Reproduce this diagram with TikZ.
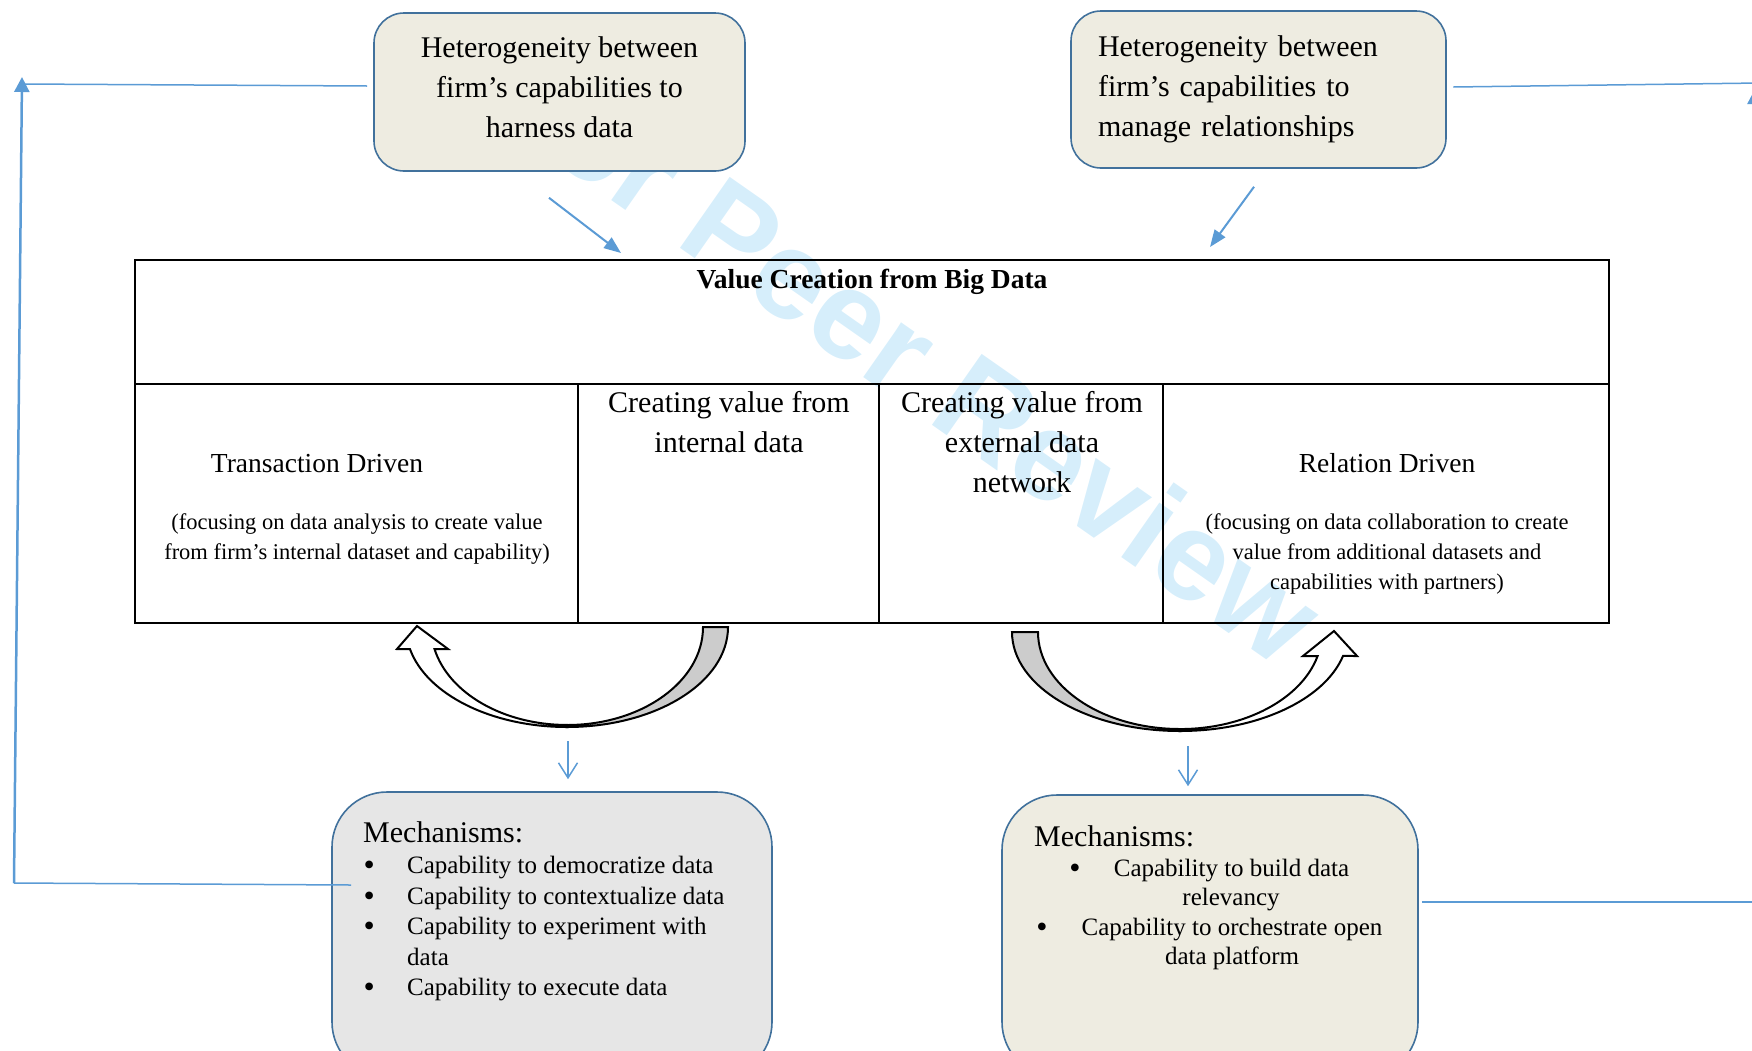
\documentclass[tikz,border=0pt]{standalone}
\usepackage{fontspec}
\setmainfont{Liberation Serif}
\newfontfamily\wmfont{Liberation Sans}
\usetikzlibrary{arrows.meta,calc}
\definecolor{boxblue}{RGB}{65,113,156}
\definecolor{beige}{RGB}{238,236,225}
\definecolor{mgray}{RGB}{230,230,230}
\definecolor{connblue}{RGB}{91,155,213}
\definecolor{wmblue}{RGB}{214,238,251}
\definecolor{tailgray}{RGB}{204,204,204}
\newcommand{\fs}[2]{\fontsize{#1}{#2}\selectfont}
\newcommand{\bul}{\raisebox{-2pt}{\fs{32}{32}•}}
\newcommand{\blt}{\makebox[43.5pt][l]{\bul}}
\newcommand{\bsp}{\hspace*{43.5pt}}
\begin{document}
\begin{tikzpicture}[x=1pt,y=-1pt,
  hbox/.style={draw=boxblue, line width=1.6pt, fill=beige, rounded corners=30pt},
  mbox/.style={draw=boxblue, line width=1.6pt, rounded corners=55pt},
  conn/.style={draw=connblue, line width=2pt},
  curv/.style={draw=black, line width=2pt, line join=miter},
  txt/.style={inner sep=0pt},
  grid/.style={draw=black, line width=2pt}]
\useasboundingbox (0,0) rectangle (1752,1050);

% watermark
\node[txt, rotate=-35, anchor=base west, text=wmblue, font=\wmfont\bfseries\fs{126}{126}] (wm) at (478,107) {For Peer Review};

% main table
\node[grid, minimum width=1474pt, minimum height=363pt, inner sep=0pt] (vc) at (872,441.5) {};
\draw[grid] ($(vc.north west)+(0,125)$) -- ($(vc.north east)+(0,125)$);
\draw[grid] ($(vc.north west)+(444,125)$) -- ($(vc.south west)+(444,0)$);
\draw[grid] ($(vc.north west)+(745,125)$) -- ($(vc.south west)+(745,0)$);
\draw[grid] ($(vc.north west)+(1029,125)$) -- ($(vc.south west)+(1029,0)$);

\node[txt, font=\bfseries\fs{27.5}{33}] (title) at (872,281.5) {Value Creation from Big Data};
\node[txt, font=\fs{27.5}{33}] (td) at (317,464) {Transaction Driven};
\node[txt, align=center, font=\fs{22.5}{30}] (tdd) at (357,539) {(focusing on data analysis to create value\\from firm’s internal dataset and capability)};
\node[txt, align=center, font=\fs{30}{40}] (ci) at (729,422) {Creating value from\\internal data};
\node[txt, align=center, font=\fs{30}{40}] (ce) at (1022,442) {Creating value from\\external data\\network};
\node[txt, font=\fs{27.5}{33}] (rd) at (1387,463) {Relation Driven};
\node[txt, align=center, font=\fs{22.5}{30}] (rdd) at (1387,554) {(focusing on data collaboration to create\\value from additional datasets and\\capabilities with partners)};

% top boxes
\node[hbox, minimum width=371pt, minimum height=158pt] (h1) at (559.5,92) {};
\node[txt, align=center, font=\fs{30}{40}] (h1t) at ($(h1.center)+(0,-4.5)$) {Heterogeneity between\\firm’s capabilities to\\harness data};
\node[hbox, minimum width=375pt, minimum height=157pt, inner xsep=27pt, text width=321pt, align=left, font=\fs{30}{40}] (h2) at (1258.5,89.5) {Heterogeneity between\\firm’s capabilities to\\manage relationships};

% arrows from top boxes to table
\draw[conn, -{Triangle[length=17pt,width=13pt]}] ($(h1.south)+(-10.5,26)$) -- ($(vc.north)+(-251,-6)$);
\draw[conn, -{Triangle[length=17pt,width=13pt]}] ($(h2.south)+(-4.5,18)$) -- ($(vc.north)+(338,-12)$);

% curved arrows (left)
\draw[curv, fill=tailgray] (703,627) -- (728,627) arc[start angle=0, end angle=90, x radius=161, y radius=100]
  -- (567,725) arc[start angle=90, end angle=0, x radius=136, y radius=98] -- cycle;
\draw[curv, fill=white] (567,727) arc[start angle=90, end angle=167.2, x radius=161, y radius=100]
  -- (397,649) -- (417,626) -- (448,649) -- (434.5,649)
  arc[start angle=167, end angle=90, x radius=136, y radius=98] -- cycle;
% curved arrows (right)
\draw[curv, fill=tailgray] (1038,632) -- (1012,632) arc[start angle=180, end angle=90, x radius=168, y radius=99]
  -- (1180,729) arc[start angle=90, end angle=180, x radius=142, y radius=97] -- cycle;
\draw[curv, fill=white] (1180,731) arc[start angle=90, end angle=14, x radius=168, y radius=99]
  -- (1357,656) -- (1334,631) -- (1303,656) -- (1317.6,656)
  arc[start angle=14.3, end angle=90, x radius=142, y radius=97] -- cycle;

% mechanism boxes
\node[mbox, fill=mgray, minimum width=440pt, minimum height=285pt] (m1) at (552,934.5) {};
\node[mbox, fill=beige, minimum width=416pt, minimum height=282pt] (m2) at (1210,936) {};

\node[txt, anchor=base west, font=\fs{30}{36}] (m1h) at (363,842) {Mechanisms:};
\node[txt, anchor=base west, font=\fs{25}{30}] (m1a) at (363.5,873.5) {\blt Capability to democratize data};
\node[txt, anchor=base west, font=\fs{25}{30}] (m1b) at (363.5,904) {\blt Capability to contextualize data};
\node[txt, anchor=base west, font=\fs{25}{30}] (m1c) at (363.5,934.5) {\blt Capability to experiment with};
\node[txt, anchor=base west, font=\fs{25}{30}] (m1d) at (363.5,965) {\bsp data};
\node[txt, anchor=base west, font=\fs{25}{30}] (m1e) at (363.5,995.5) {\blt Capability to execute data};

\node[txt, anchor=base west, font=\fs{30}{36}] (m2h) at (1034,846) {Mechanisms:};
\node[txt, anchor=base, font=\fs{25}{30}] (b1) at (1075,876) {\bul};
\node[txt, anchor=base, font=\fs{25}{30}] (m2a) at (1231.5,876) {Capability to build data};
\node[txt, anchor=base, font=\fs{25}{30}] (m2b) at (1231,905) {relevancy};
\node[txt, anchor=base, font=\fs{25}{30}] (b2) at (1042,935) {\bul};
\node[txt, anchor=base, font=\fs{25}{30}] (m2c) at (1232,935) {Capability to orchestrate open};
\node[txt, anchor=base, font=\fs{25}{30}] (m2d) at (1232,964) {data platform};

% down arrows from curved arrows to mechanisms
\coordinate (ca1) at (568,741);
\coordinate (ca2) at (1188,746);
\draw[conn, line width=1.5pt, -{Straight Barb[length=15pt,width=19pt]}] (ca1) -- ($(m1.north)+(16,-12)$);
\draw[conn, line width=1.5pt, -{Straight Barb[length=15pt,width=19pt]}] (ca2) -- ($(m2.north)+(-22,-8)$);

% feedback loops
\coordinate (lb) at (14,883);
\coordinate (lt) at (22,77);
\coordinate (rb) at (1755,902);
\coordinate (rt) at (1755,89);
\draw[conn, line width=1.5pt] ($(h1.west)+(-6,-6)$) -- (22,84);
\draw[conn, line width=1.5pt] ($(m1.west)+(20,-49.5)$) -- (lb);
\draw[conn, line width=2.5pt, -{Triangle[length=15pt,width=15pt]}] (lb) -- (lt);
\draw[conn, line width=1.5pt] ($(h2.east)+(6.5,-2.5)$) -- (1760,83);
\draw[conn, line width=1.5pt] ($(m2.east)+(3,-34)$) -- (rb);
\draw[conn, line width=2.5pt, -{Triangle[length=15pt,width=15pt]}] (rb) -- (rt);
\end{tikzpicture}
\end{document}
